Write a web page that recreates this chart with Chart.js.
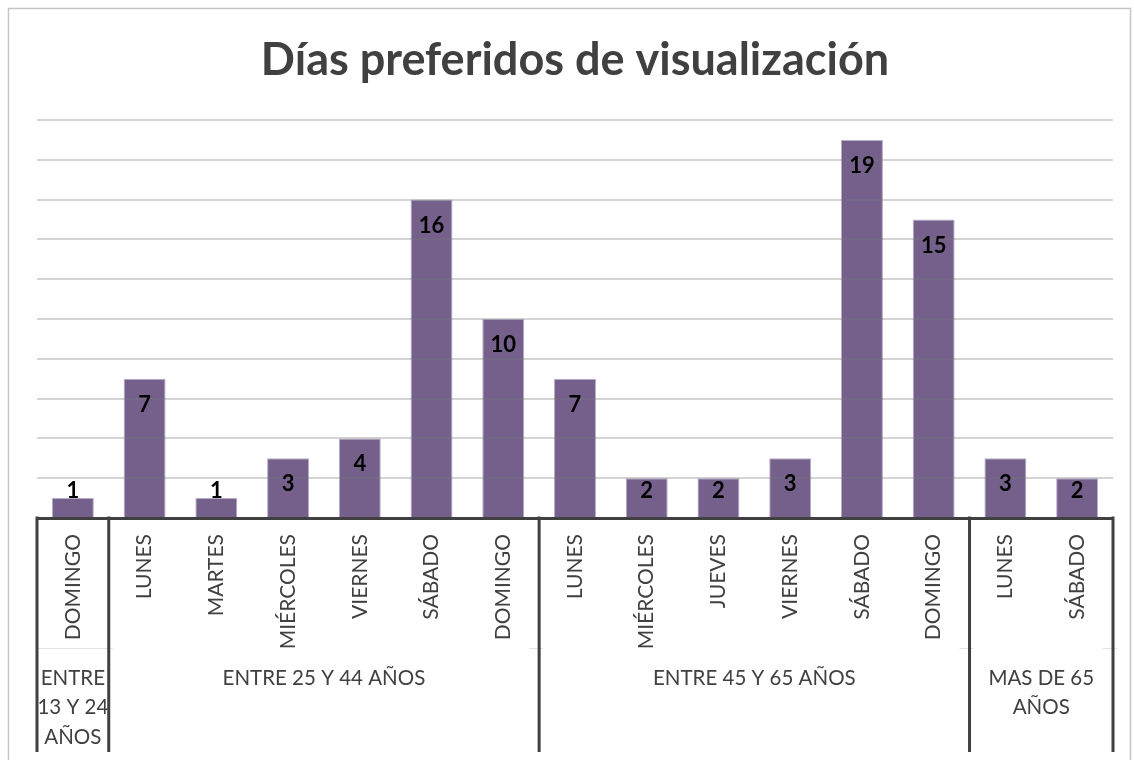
<!DOCTYPE html>
<html>
<head>
<meta charset="utf-8">
<script src="https://cdn.jsdelivr.net/npm/chart.js@4/dist/chart.umd.min.js"></script>
<style>
  html, body { margin: 0; padding: 0; background: #ffffff; }
  #wrap { width: 1134px; height: 760px; position: relative; }
</style>
</head>
<body>
<div id="wrap"><canvas id="c" width="1134" height="760"></canvas></div>
<script>
const chartTitle = 'Días preferidos de visualización';
const categories = ['DOMINGO','LUNES','MARTES','MIÉRCOLES','VIERNES','SÁBADO','DOMINGO','LUNES','MIÉRCOLES','JUEVES','VIERNES','SÁBADO','DOMINGO','LUNES','SÁBADO'];
const values = [1,7,1,3,4,16,10,7,2,2,3,19,15,3,2];
const groupLabels = [['ENTRE','13 Y 24','AÑOS'], ['ENTRE 25 Y 44 AÑOS'], ['ENTRE 45 Y 65 AÑOS'], ['MAS DE 65','AÑOS']];
const groupSizes = [1, 6, 6, 2];

const FONT = 'Lato, "Open Sans", sans-serif';
const DARK = '#404040';

const frameAndGroups = {
  id: 'frameAndGroups',
  beforeDraw(chart) {
    const ctx = chart.ctx;
    ctx.save();
    ctx.fillStyle = '#ffffff';
    ctx.fillRect(0, 0, chart.width, chart.height);
    ctx.strokeStyle = '#c6c6c6';
    ctx.lineWidth = 1.5;
    ctx.strokeRect(8.5, 8.5, 1122, 800);
    ctx.restore();
  },
  afterDraw(chart) {
    const ctx = chart.ctx;
    const xs = chart.scales.x;
    const ca = chart.chartArea;
    const meta = chart.getDatasetMeta(0);
    const base = chart.scales.y.getPixelForValue(0);
    ctx.save();
    // data labels
    ctx.fillStyle = '#000000';
    ctx.font = 'bold 22px ' + FONT;
    ctx.textAlign = 'center';
    ctx.textBaseline = 'middle';
    meta.data.forEach((bar, i) => {
      const y = Math.min(bar.y + 26, base - 27);
      ctx.fillText(String(values[i]), bar.x, y);
    });
    // group separators and labels
    const n = categories.length;
    const boundary = (k) => {
      if (k <= 0) return ca.left;
      if (k >= n) return ca.right;
      return (xs.getPixelForTick(k - 1) + xs.getPixelForTick(k)) / 2;
    };
    let start = 0;
    const bounds = [boundary(0)];
    groupSizes.forEach(s => { start += s; bounds.push(boundary(start)); });
    // faint row divider between category row and group row
    ctx.strokeStyle = '#e2e2e2';
    ctx.lineWidth = 1;
    ctx.beginPath();
    ctx.moveTo(bounds[0], 648.5);
    ctx.lineTo(bounds[1] + 4, 648.5);
    for (let k = 2; k < bounds.length; k++) {
      ctx.moveTo(bounds[k] - 10, 648.5);
      ctx.lineTo(bounds[k] + 4, 648.5);
    }
    ctx.stroke();
    ctx.strokeStyle = DARK;
    ctx.lineWidth = 3;
    bounds.forEach(bx => {
      ctx.beginPath();
      ctx.moveTo(bx, ca.bottom - 1.5);
      ctx.lineTo(bx, xs.bottom);
      ctx.stroke();
    });
    ctx.fillStyle = DARK;
    ctx.font = '20.5px ' + FONT;
    groupLabels.forEach((lines, g) => {
      const cx = (bounds[g] + bounds[g + 1]) / 2;
      lines.forEach((t, li) => {
        ctx.fillText(t, cx, 678 + li * 29.5);
      });
    });
    ctx.restore();
  }
};

new Chart(document.getElementById('c'), {
  type: 'bar',
  data: {
    labels: categories,
    datasets: [{
      data: values,
      backgroundColor: '#74608a',
      borderColor: '#b8accb',
      borderWidth: 1,
      categoryPercentage: 1,
      barPercentage: 0.585
    }]
  },
  options: {
    responsive: false,
    animation: false,
    layout: { padding: { left: 37, right: 21, top: 0, bottom: 8 } },
    plugins: {
      legend: { display: false },
      tooltip: { enabled: false },
      title: {
        display: true,
        text: chartTitle,
        color: DARK,
        font: { family: FONT, size: 45, weight: 'bold', lineHeight: 1.2 },
        padding: { top: 33, bottom: 33 }
      }
    },
    scales: {
      x: {
        grid: { display: false, drawTicks: false },
        border: { display: true, color: DARK, width: 3, z: 2 },
        ticks: {
          autoSkip: false,
          minRotation: 90,
          maxRotation: 90,
          padding: 16,
          color: DARK,
          font: { family: FONT, size: 21 }
        },
        afterFit(scale) { scale.height = 234; }
      },
      y: {
        min: 0,
        max: 20,
        ticks: { display: false, stepSize: 2 },
        border: { display: false },
        grid: {
          drawTicks: false,
          z: 1,
          lineWidth: 2,
          color: (c) => c.tick && c.tick.value === 0 ? 'rgba(0,0,0,0)' : 'rgba(120,120,120,0.32)'
        },
        afterFit(scale) { scale.width = 0; }
      }
    }
  },
  plugins: [frameAndGroups]
});
</script>
</body>
</html>
